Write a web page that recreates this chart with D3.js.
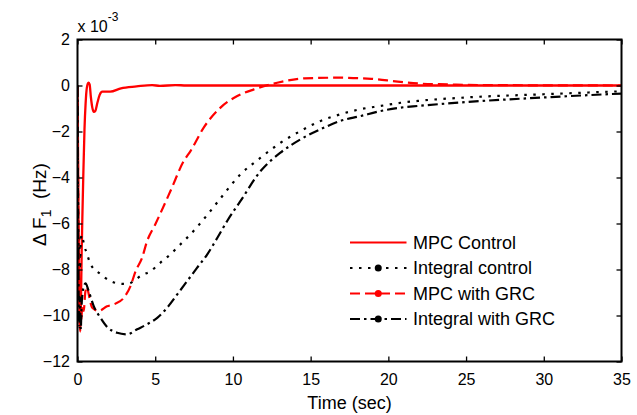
<!DOCTYPE html>
<html>
<head>
<meta charset="utf-8">
<script src="https://cdn.jsdelivr.net/npm/d3@7"></script>
<style>
  body { margin: 0; background: #fff; }
  text { font-family: "Liberation Sans", Arial, sans-serif; fill: #000; }
</style>
</head>
<body>
<div id="chart-area"></div>
<script>
// Values, in units of 1e-3 Hz, as [time (sec), deltaF]
let mpcControl = [
	[0, 0], [0.04, -3.5], [0.08, -7.5], [0.13, -10.2], [0.18, -10.7], [0.22, -9.5],
	[0.27, -7.2], [0.32, -5.5], [0.37, -4.0], [0.45, -1.9], [0.52, -0.8], [0.6, -0.1],
	[0.7, 0.12], [0.78, 0.05], [0.86, -0.5], [0.95, -0.95], [1.05, -1.15], [1.15, -1.1],
	[1.28, -0.75], [1.42, -0.42], [1.6, -0.27], [2.1, -0.27], [2.8, -0.12], [3.8, -0.04],
	[4.8, 0.02], [5.3, -0.02], [6.3, 0.02], [7, 0], [35, 0]
];

let integralControl = [
	[0, 0], [0.03, -4], [0.07, -7.6], [0.11, -6.6], [0.16, -8.0], [0.21, -6.8], [0.27, -6.5],
	[0.35, -6.7], [0.45, -7.0], [0.6, -7.3], [0.84, -7.77], [1.48, -8.2], [2.12, -8.5],
	[2.77, -8.62], [3.2, -8.63], [3.63, -8.5], [4.05, -8.28], [4.7, -8.07], [5.34, -7.7],
	[5.98, -7.34], [6.63, -6.9], [7.27, -6.47], [7.8, -6.07], [8.5, -5.5], [9.23, -4.88],
	[10.49, -3.86], [11.78, -3.14], [13.06, -2.49], [14.35, -1.98], [15.64, -1.54],
	[16.92, -1.25], [18.2, -1.03], [19.5, -0.89], [20.8, -0.75], [21.9, -0.67],
	[25, -0.52], [30, -0.38], [35, -0.25]
];

let mpcWithGrc = [
	[0, 0], [0.03, -3], [0.06, -6.5], [0.1, -9], [0.15, -10.4], [0.2, -9.3], [0.25, -10.2],
	[0.3, -9.6], [0.4, -9.8], [0.5, -9.0], [0.6, -8.75], [0.7, -9.0], [0.82, -9.4],
	[0.95, -9.66], [1.37, -9.8], [1.9, -9.6], [2.4, -9.5], [2.98, -9.23], [3.41, -8.72],
	[3.74, -8.07], [4.16, -7.48], [4.48, -6.76], [5.0, -6.04], [5.98, -4.59], [6.84, -3.28],
	[7.27, -2.85], [8.13, -1.82], [9.2, -0.96], [10.28, -0.46], [11.35, -0.17], [12.85, 0.12],
	[14.6, 0.31], [16.7, 0.34], [18.9, 0.29], [20.6, 0.17], [22.1, 0.08], [23.8, 0.05],
	[26, 0.02], [35, 0]
];

let integralWithGrc = [
	[0, 0], [0.03, -5], [0.07, -9], [0.11, -10.5], [0.16, -9.2], [0.21, -10.6], [0.26, -9.6],
	[0.33, -9.0], [0.42, -8.7], [0.52, -8.6], [0.7, -8.9], [1.05, -9.6], [1.48, -10.1],
	[1.91, -10.5], [2.55, -10.75], [3.2, -10.82], [3.84, -10.6], [4.48, -10.38], [5.13, -10.1],
	[5.77, -9.66], [6.42, -9.08], [7.06, -8.5], [7.7, -7.92], [8.35, -7.34], [9.0, -6.62],
	[9.63, -5.89], [10.49, -5.02], [11.78, -3.72], [13.06, -2.92], [14.35, -2.34],
	[15.64, -1.9], [16.92, -1.54], [18.2, -1.33], [19.5, -1.11], [20.8, -0.96], [21.9, -0.89],
	[25, -0.72], [30, -0.52], [35, -0.35]
];

let xTicks = [0, 5, 10, 15, 20, 25, 30, 35];
let yTicks = [-12, -10, -8, -6, -4, -2, 0, 2];

let seriesNames = ["MPC Control", "Integral control", "MPC with GRC", "Integral with GRC"];
let seriesData = [mpcControl, integralControl, mpcWithGrc, integralWithGrc];
let seriesColors = ["#ff0000", "#000000", "#ff0000", "#000000"];
let seriesDash = [null, "2.5,6.5", "10,5", "10,4,2.5,4"];

// margin conventions
let margin = {top: 39.5, right: 15.5, bottom: 53.5, left: 77.5};
let width = 637 - margin.left - margin.right;
let height = 415 - margin.top - margin.bottom;

let svg = d3.select("#chart-area").append("svg")
		.attr("width", 637)
		.attr("height", 415)
	.append("g")
		.attr("transform", "translate(" + margin.left + "," + margin.top + ")");

// scales
let xScale = d3.scaleLinear().domain([0, 35]).range([0, width]);
let yScale = d3.scaleLinear().domain([-12, 2]).range([height, 0]);

// clip so the curves stay inside the box
svg.append("clipPath").attr("id", "clip")
	.append("rect").attr("width", width).attr("height", height);

// curves
let line = d3.line()
	.x(d => xScale(d[0]))
	.y(d => yScale(d[1]))
	.curve(d3.curveMonotoneX);

seriesData.forEach((data, i) => {
	svg.append("path")
		.datum(data)
		.attr("clip-path", "url(#clip)")
		.attr("fill", "none")
		.attr("stroke", seriesColors[i])
		.attr("stroke-width", i === 0 ? 2.3 : 2.2)
		.attr("stroke-dasharray", seriesDash[i])
		.attr("d", line);
});

// axes, ticks pointing inward
let xAxis = d3.axisBottom(xScale).tickValues(xTicks).tickSizeInner(-5).tickSizeOuter(0).tickPadding(12);
let yAxis = d3.axisLeft(yScale).tickValues(yTicks).tickSizeInner(-5).tickSizeOuter(0).tickPadding(7.5);
let xAxisTop = d3.axisTop(xScale).tickValues(xTicks).tickSizeInner(-5).tickSizeOuter(0).tickFormat("");
let yAxisRight = d3.axisRight(yScale).tickValues(yTicks).tickSizeInner(-5).tickSizeOuter(0).tickFormat("");

svg.append("g").attr("class", "x axis")
	.attr("transform", "translate(0," + height + ")")
	.call(xAxis);
svg.append("g").attr("class", "y axis").call(yAxis);
svg.append("g").attr("class", "x axis top").call(xAxisTop);
svg.append("g").attr("class", "y axis right")
	.attr("transform", "translate(" + width + ",0)")
	.call(yAxisRight);

svg.selectAll(".axis .domain").remove();
svg.selectAll(".axis line").attr("stroke", "#000").attr("stroke-width", 1.3);
svg.selectAll(".axis text")
	.style("font-family", "'Liberation Sans', Arial, sans-serif")
	.style("font-size", "16px")
	.attr("fill", "#000");

// box
svg.append("rect")
	.attr("width", width)
	.attr("height", height)
	.attr("fill", "none")
	.attr("stroke", "#000")
	.attr("stroke-width", 2);

// axis labels
svg.append("text")
	.attr("x", width / 2)
	.attr("y", height + 47)
	.attr("text-anchor", "middle")
	.style("font-size", "18px")
	.text("Time (sec)");

let yLabel = svg.append("text")
	.attr("transform", "translate(-32," + (height / 2 + 4) + ") rotate(-90)")
	.attr("text-anchor", "middle")
	.style("white-space", "pre")
	.style("font-size", "19px");
yLabel.append("tspan").text("\u0394 F");
yLabel.append("tspan").attr("dy", 5).style("font-size", "14px").text("1");
yLabel.append("tspan").attr("dy", -5).text("  (Hz)");

// exponent note
let expLabel = svg.append("text")
	.attr("x", 0)
	.attr("y", -7.5)
	.style("font-size", "16px");
expLabel.append("tspan").text("x 10");
expLabel.append("tspan").attr("dy", -11).style("font-size", "12px").text("-3");

// legend
let legendRows = [242.5, 268, 293.5, 319];
let legend = svg.append("g").attr("class", "legend");

seriesNames.forEach((name, i) => {
	let y = legendRows[i] - margin.top;
	let x0 = 350 - margin.left, x1 = 406.5 - margin.left;
	legend.append("line")
		.attr("x1", x0).attr("x2", x1)
		.attr("y1", y).attr("y2", y)
		.attr("stroke", seriesColors[i])
		.attr("stroke-width", 2.2)
		.attr("stroke-dasharray", seriesDash[i]);
	if (i > 0) {
		legend.append("circle")
			.attr("cx", (x0 + x1) / 2)
			.attr("cy", y)
			.attr("r", 3.5)
			.attr("fill", seriesColors[i]);
	}
	legend.append("text")
		.attr("x", 413 - margin.left)
		.attr("y", y)
		.attr("dy", "0.35em")
		.style("font-size", "18px")
		.text(name);
});
</script>
</body>
</html>
